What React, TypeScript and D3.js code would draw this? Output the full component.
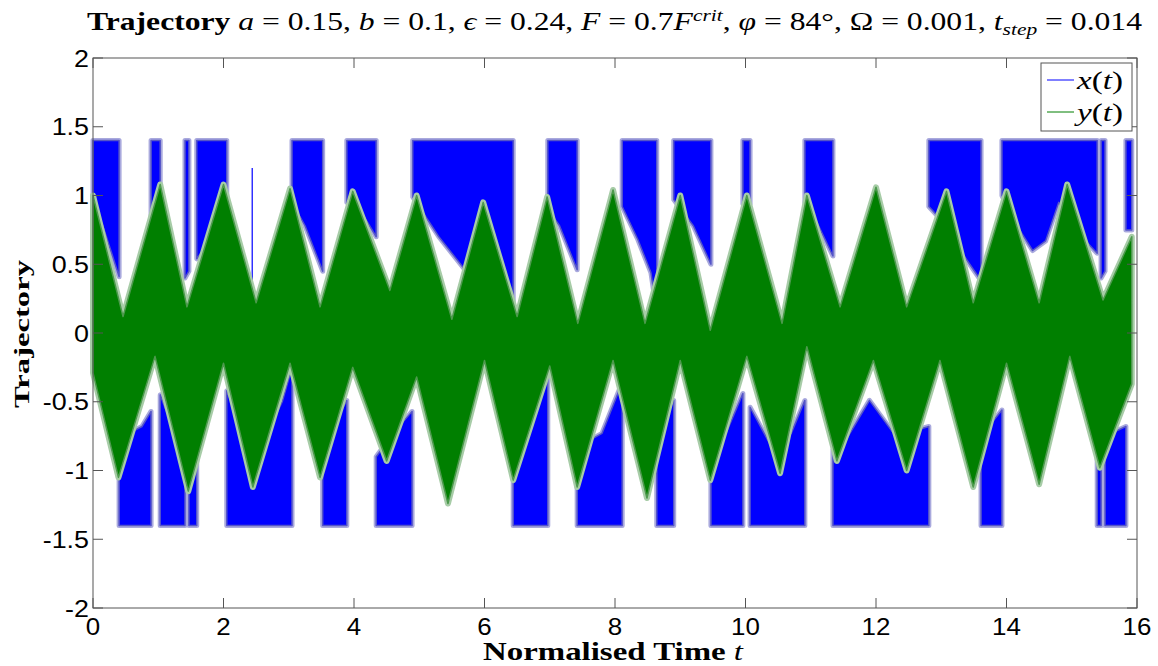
import React from "react";
import * as d3 from "d3";

// ---- data ----
const xTicks = [0, 2, 4, 6, 8, 10, 12, 14, 16];
const yTicks = [-2, -1.5, -1, -0.5, 0, 0.5, 1, 1.5, 2];
const yTickLabels = ["-2", "-1.5", "-1", "-0.5", "0", "0.5", "1", "1.5", "2"];

// x(t): saturation level of the two wells
const xOuterLevel = 1.4;
// x(t) blocks in the upper well: [t, inner edge value]
const xUpperBlocks: [number, number][][] = [
  [[0, 0.95], [0.15, 0.78], [0.3, 0.56], [0.4, 0.41]],
  [[0.89, 0.76], [1.03, 0.95]],
  [[1.41, 0.4], [1.47, 0.45]],
  [[1.59, 0.54], [1.73, 0.63], [1.9, 0.75], [2.05, 0.92]],
  [[3.05, 0.95], [3.25, 0.78], [3.52, 0.45]],
  [[3.89, 0.95], [4.15, 0.85], [4.34, 0.7]],
  [[4.9, 0.99], [5.3, 0.7], [5.7, 0.46], [6.0, 0.75], [6.25, 0.56], [6.44, 0.23]],
  [[6.97, 0.9], [7.15, 0.78], [7.42, 0.46]],
  [[8.11, 0.92], [8.35, 0.68], [8.55, 0.44], [8.64, 0.15]],
  [[8.9, 0.97], [9.2, 0.78], [9.47, 0.5]],
  [[9.96, 0.94], [10.07, 0.94]],
  [[10.91, 0.95], [11.1, 0.8], [11.34, 0.56]],
  [[12.81, 0.92], [13.1, 0.77], [13.35, 0.56], [13.61, 0.38]],
  [[13.93, 1.0], [14.2, 0.75], [14.4, 0.6], [14.6, 0.67], [14.8, 0.95], [15.05, 0.75], [15.39, 0.58]],
  [[15.45, 0.4], [15.51, 0.45]],
  [[15.83, 0.75], [15.92, 0.75]],
];
// x(t) blocks in the lower well: [t, inner edge value]
const xLowerBlocks: [number, number][][] = [
  [[0.4, -0.95], [0.55, -0.73], [0.75, -0.68], [0.89, -0.57]],
  [[1.03, -0.45], [1.15, -0.6], [1.41, -0.77]],
  [[1.47, -0.93], [1.59, -0.93]],
  [[2.05, -0.42], [2.25, -0.66], [2.44, -0.93], [2.7, -0.7], [2.9, -0.5], [3.05, -0.25]],
  [[3.52, -0.9], [3.7, -0.66], [3.89, -0.49]],
  [[4.34, -0.9], [4.6, -0.73], [4.89, -0.57]],
  [[6.44, -0.8], [6.7, -0.59], [6.97, -0.33]],
  [[7.42, -0.83], [7.8, -0.73], [8.11, -0.36]],
  [[8.64, -0.75], [8.9, -0.49]],
  [[9.47, -0.8], [9.7, -0.73], [9.96, -0.44]],
  [[10.07, -0.54], [10.4, -0.83], [10.7, -0.73], [10.91, -0.49]],
  [[11.34, -0.85], [11.55, -0.77], [11.9, -0.49], [12.3, -0.75], [12.81, -0.68]],
  [[13.61, -0.75], [13.93, -0.56]],
  [[15.39, -0.85], [15.45, -0.85]],
  [[15.51, -0.75], [15.83, -0.68]],
];
// isolated transient excursions of x(t): [t, from, to]
const xSpikes: [number, number, number][] = [[2.44, -0.9, 1.2]];

// y(t) envelope: upper and lower edges [t, value]
const yUpperEnv: [number, number][] = [
  [0, 1.0], [0.46, 0.12], [1.03, 1.08], [1.44, 0.19], [2.0, 1.08], [2.5, 0.22],
  [3.02, 1.05], [3.48, 0.19], [3.98, 1.03], [4.55, 0.31], [4.96, 1.0], [5.5, 0.1],
  [5.98, 0.95], [6.5, 0.12], [6.96, 0.99], [7.43, 0.07], [7.97, 1.04], [8.46, 0.07],
  [9.0, 1.0], [9.46, 0.02], [10.02, 1.0], [10.56, 0.07], [10.94, 1.0], [11.45, 0.19],
  [12.0, 1.06], [12.47, 0.19], [13.08, 1.03], [13.49, 0.22], [14.0, 1.03], [14.5, 0.22],
  [14.93, 1.08], [15.48, 0.24], [15.92, 0.7],
];
const yLowerEnv: [number, number][] = [
  [0, -0.29], [0.39, -1.05], [0.95, -0.17], [1.46, -1.15], [2.0, -0.22], [2.45, -1.12],
  [3.02, -0.22], [3.48, -1.05], [3.98, -0.25], [4.5, -0.93], [4.96, -0.32], [5.44, -1.24],
  [6.0, -0.2], [6.44, -1.07], [7.0, -0.24], [7.42, -1.12], [7.97, -0.2], [8.49, -1.2],
  [9.0, -0.2], [9.46, -1.07], [10.02, -0.17], [10.53, -1.02], [10.94, -0.1], [11.4, -0.93],
  [11.96, -0.2], [12.47, -1.0], [12.98, -0.2], [13.49, -1.12], [14.0, -0.22], [14.5, -1.1],
  [14.97, -0.17], [15.43, -0.98], [15.92, -0.37],
];

// ---- layout ----
const W = 1158;
const H = 666;
const L = 93, R = 1137, T = 58, B = 608;
const serif = "'Liberation Serif', 'DejaVu Serif', serif";

export default function App() {
  const x = d3.scaleLinear().domain([0, 16]).range([L, R]);
  const y = d3.scaleLinear().domain([-2, 2]).range([B, T]);
  const line = d3.line<[number, number]>().x((d) => x(d[0])).y((d) => y(d[1]));

  const blockPath = (pts: [number, number][], outer: number) => {
    const t0 = pts[0][0];
    const t1 = pts[pts.length - 1][0];
    const poly: [number, number][] = [[t0, outer], [t1, outer], ...pts.slice().reverse()];
    return line(poly) + "Z";
  };

  const greenPoly: [number, number][] = [...yUpperEnv, ...yLowerEnv.slice().reverse()];
  const greenPath = line(greenPoly) + "Z";

  const blue = "#0000ff";
  const green = "#007f00";
  const axisCol = "#555";
  const tickLen = 10;

  const blockPaths = [
    ...xUpperBlocks.map((b) => blockPath(b, xOuterLevel)),
    ...xLowerBlocks.map((b) => blockPath(b, -xOuterLevel)),
  ];

  return (
    <svg width={W} height={H} style={{ position: "absolute", left: 0, top: 0, background: "#fff" }}
      fontFamily="'Liberation Sans', Arial, sans-serif">
      <rect x={0} y={0} width={W} height={H} fill="#fff" />
      {/* x(t) */}
      <g>
        {blockPaths.map((d, i) => (
          <path key={"h" + i} d={d} fill="none" stroke="#a9a9dd" strokeWidth={5} strokeLinejoin="round" />
        ))}
        {blockPaths.map((d, i) => (
          <path key={"b" + i} d={d} fill={blue} stroke="#5555c8" strokeWidth={1.5} strokeLinejoin="round" />
        ))}
        {xSpikes.map((s, i) => (
          <line key={"s" + i} x1={x(s[0])} x2={x(s[0])} y1={y(s[1])} y2={y(s[2])} stroke={blue} strokeWidth={1.2} />
        ))}
      </g>
      {/* y(t) */}
      <path d={greenPath} fill="none" stroke="#a7cca7" strokeWidth={6} strokeLinejoin="round" />
      <path d={greenPath} fill={green} stroke="#4d9a4d" strokeWidth={1.5} strokeLinejoin="round" />

      {/* frame */}
      <rect x={L} y={T} width={R - L} height={B - T} fill="none" stroke={axisCol} strokeWidth={1} />
      {xTicks.map((t) => (
        <g key={"xt" + t}>
          <line x1={x(t)} x2={x(t)} y1={B} y2={B - tickLen} stroke={axisCol} />
          <line x1={x(t)} x2={x(t)} y1={T} y2={T + tickLen} stroke={axisCol} />
          <text transform={`translate(${x(t)}, 635) scale(1.08, 1)`} fontSize={24} textAnchor="middle" fill="#000">{t}</text>
        </g>
      ))}
      {yTicks.map((v, i) => (
        <g key={"yt" + v}>
          <line x1={L} x2={L + tickLen} y1={y(v)} y2={y(v)} stroke={axisCol} />
          <line x1={R} x2={R - tickLen} y1={y(v)} y2={y(v)} stroke={axisCol} />
          <text transform={`translate(89, ${y(v) + 8.5}) scale(1.12, 1)`} fontSize={24} textAnchor="end" fill="#000">{yTickLabels[i]}</text>
        </g>
      ))}

      {/* title */}
      <text x={87} y={30} fontSize={25} fontFamily={serif} fill="#000"
        textLength={1055} lengthAdjust="spacingAndGlyphs">
        <tspan fontWeight="bold">Trajectory </tspan>
        <tspan fontStyle="italic">a</tspan><tspan> = 0.15, </tspan>
        <tspan fontStyle="italic">b</tspan><tspan> = 0.1, </tspan>
        <tspan fontStyle="italic">ϵ</tspan><tspan> = 0.24, </tspan>
        <tspan fontStyle="italic">F</tspan><tspan> = 0.7</tspan>
        <tspan fontStyle="italic">F</tspan>
        <tspan fontStyle="italic" fontSize={17} dy={-9}>crit</tspan>
        <tspan dy={9}>, </tspan>
        <tspan fontStyle="italic">φ</tspan><tspan> = 84°, Ω = 0.001, </tspan>
        <tspan fontStyle="italic">t</tspan>
        <tspan fontStyle="italic" fontSize={17} dy={5}>step</tspan>
        <tspan dy={-5}> = 0.014</tspan>
      </text>

      {/* axis labels */}
      <text x={483} y={660} fontSize={25} fontFamily={serif} fill="#000" textLength={260} lengthAdjust="spacingAndGlyphs">
        <tspan fontWeight="bold">Normalised Time </tspan><tspan fontStyle="italic">t</tspan>
      </text>
      <text transform={`translate(29, 408) rotate(-90)`} fontSize={22} fontFamily={serif} fontWeight="bold" fill="#000"
        textLength={148} lengthAdjust="spacingAndGlyphs">Trajectory</text>

      {/* legend */}
      <g>
        <rect x={1041} y={63} width={91} height={68} fill="#fff" stroke={axisCol} strokeWidth={1} />
        <line x1={1047} x2={1074} y1={80} y2={80} stroke={blue} strokeWidth={1} />
        <line x1={1047} x2={1074} y1={112} y2={112} stroke={green} strokeWidth={1} />
        <text x={1077} y={89} fontSize={26} fontFamily={serif} fill="#000" textLength={46} lengthAdjust="spacingAndGlyphs">
          <tspan fontStyle="italic">x</tspan><tspan>(</tspan><tspan fontStyle="italic">t</tspan><tspan>)</tspan>
        </text>
        <text x={1077} y={121} fontSize={26} fontFamily={serif} fill="#000" textLength={46} lengthAdjust="spacingAndGlyphs">
          <tspan fontStyle="italic">y</tspan><tspan>(</tspan><tspan fontStyle="italic">t</tspan><tspan>)</tspan>
        </text>
      </g>
    </svg>
  );
}
